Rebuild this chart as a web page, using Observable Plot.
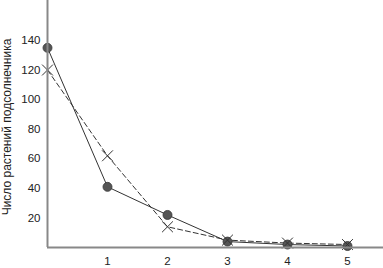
<!DOCTYPE html>
<html><head><meta charset="utf-8">
<script src="https://cdn.jsdelivr.net/npm/d3@7"></script>
<script src="https://cdn.jsdelivr.net/npm/@observablehq/plot@0.6"></script>
<style>body{margin:0;background:#fff}</style>
</head><body><div id="chart"></div>
<script>
const xs = [0, 1, 2, 3, 4, 5];
const observed = [135, 41, 22, 4, 2, 1];
const expected = [120, 62, 14, 5, 3, 2];
const xTicks = [1, 2, 3, 4, 5];
const yTicks = [20, 40, 60, 80, 100, 120, 140];
const yLabel = "Число растений подсолнечника";

const obs = xs.map((x, i) => ({x, y: observed[i]}));
const exp = xs.map((x, i) => ({x, y: expected[i]}));

const chart = Plot.plot({
  width: 383, height: 268,
  marginLeft: 47, marginRight: 0, marginTop: 0, marginBottom: 21,
  style: {fontFamily: "Liberation Sans, Arial, sans-serif", fontSize: "11px", background: "#fff", color: "#222"},
  x: {domain: [0, 5.6]},
  y: {domain: [0, 167]},
  marks: [
    Plot.axisX({ticks: xTicks, tickFormat: "d", tickSize: 0, tickPadding: 9, label: null, fontSize: 11.5}),
    Plot.axisY({ticks: yTicks, tickSize: 0, tickPadding: 7, label: null, fontSize: 11.5}),
    Plot.text([yLabel], {frameAnchor: "left", textAnchor: "middle", rotate: -90, dx: -40, dy: 3, fontSize: 12, fill: "#222"}),
    Plot.line(exp, {x: "x", y: "y", stroke: "#333", strokeWidth: 1, strokeDasharray: "5,3"}),
    Plot.line(obs, {x: "x", y: "y", stroke: "#333", strokeWidth: 1}),
    Plot.dot(obs, {x: "x", y: "y", r: 4.5, fill: "#555", stroke: "#333", strokeWidth: 0.8}),
    Plot.dot(exp, {x: "x", y: "y", symbol: "times", r: 5, stroke: "#333", strokeWidth: 1}),
    Plot.ruleX([0], {stroke: "#888", strokeWidth: 2}),
    Plot.ruleY([0], {stroke: "#888", strokeWidth: 2})
  ]
});
document.getElementById("chart").appendChild(chart);
</script>
</body></html>
